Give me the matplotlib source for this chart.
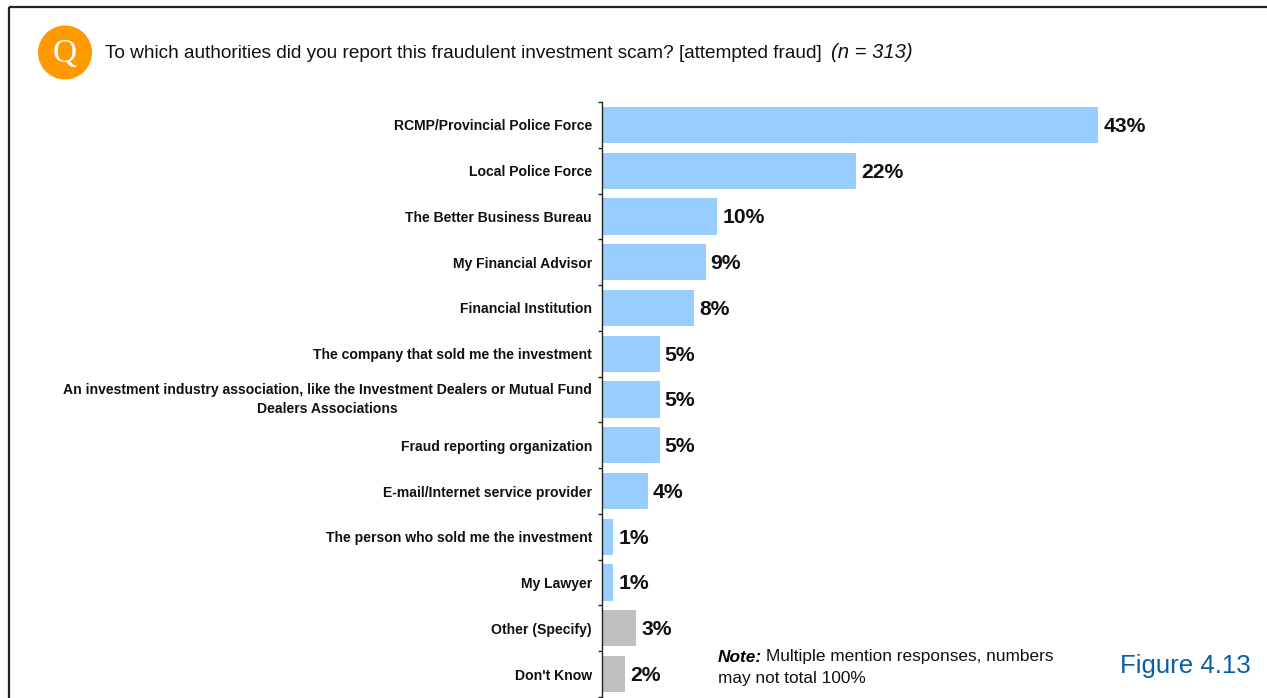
#!/usr/bin/env python3
"""Figure 4.13: authorities that fraud attempts were reported to"""
import numpy as np, matplotlib
matplotlib.use('Agg')
import matplotlib.pyplot as plt
from matplotlib.patches import Circle

plt.rcParams['font.family'] = ['Liberation Sans', 'DejaVu Sans']

labels = [
    'RCMP/Provincial Police Force',
    'Local Police Force',
    'The Better Business Bureau',
    'My Financial Advisor',
    'Financial Institution',
    'The company that sold me the investment',
    'An investment industry association, like the Investment Dealers or Mutual Fund\nDealers Associations',
    'Fraud reporting organization',
    'E-mail/Internet service provider',
    'The person who sold me the investment',
    'My Lawyer',
    'Other (Specify)',
    "Don't Know",
]
values = [43, 22, 10, 9, 8, 5, 5, 5, 4, 1, 1, 3, 2]
bar_colors = ['#99CCFF'] * 11 + ['#C0C0C0'] * 2

W, H = 1267, 698
fig = plt.figure(figsize=(W / 100, H / 100), dpi=100)

# overlay in pixel coords for frame, badge and captions
bg = fig.add_axes([0, 0, 1, 1])
bg.set_xlim(0, W)
bg.set_ylim(H, 0)
bg.axis('off')
bg.plot([8.5, 8.5], [H, 7], color='#222222', lw=1.6, solid_capstyle='butt')
bg.plot([8.5, W], [7, 7], color='#222222', lw=1.6, solid_capstyle='butt')
bg.add_patch(Circle((65, 52.5), 27, color='#FF9900', lw=0))
bg.text(65, 54, 'Q', color='white', fontsize=24, family='Liberation Serif',
        ha='center', va='center')
bg.text(105, 53, 'To which authorities did you report this fraudulent investment scam? [attempted fraud]',
        fontsize=13.7, color='#111111', va='center')
bg.text(831, 53, '(n = 313)', fontsize=14.6, style='italic', color='#111111', va='center')
bg.text(718, 657, 'Note:', fontsize=12.4, style='italic', fontweight='bold', va='center')
bg.text(766, 657, 'Multiple mention responses, numbers', fontsize=12.4, color='#111111', va='center')
bg.text(718, 678, 'may not total 100%', fontsize=12.4, color='#111111', va='center')
bg.text(1120, 666, 'Figure 4.13', fontsize=18.6, color='#0B5FA5', va='center')

# chart axes
x0, y_top, y_bot = 601.8, 102, 697
ax = fig.add_axes([x0 / W, 1 - y_bot / H, (W - x0) / W, (y_bot - y_top) / H])
ax.patch.set_alpha(0)
y = np.arange(len(labels))
ax.barh(y, values, height=0.79, color=bar_colors, zorder=2)
for yi, v in zip(y, values):
    ax.text(v + 0.42, yi + 0.03, f'{v}%', fontsize=15.2, fontweight='bold',
            color='#111111', va='center', ha='left')

ax.set_xlim(0, (W - x0) / 11.55)
ax.set_ylim(len(labels) - 0.5, -0.5)
ax.set_yticks(y)
ax.set_yticklabels(labels, fontsize=10.1, fontweight='bold', color='#111111',
                   linespacing=1.5, multialignment='center')
ax.get_yticklabels()[6].set_verticalalignment('center')
ax.set_yticks(np.arange(len(labels) + 1) - 0.5, minor=True)
ax.tick_params(axis='y', which='major', length=0, pad=7)
ax.tick_params(axis='y', which='minor', length=3, width=1, color='#222222')
ax.xaxis.set_visible(False)
for s in ['top', 'right', 'bottom']:
    ax.spines[s].set_visible(False)
ax.spines['left'].set_color('#222222')
ax.spines['left'].set_linewidth(1)

plt.savefig('out.png', dpi=100)
